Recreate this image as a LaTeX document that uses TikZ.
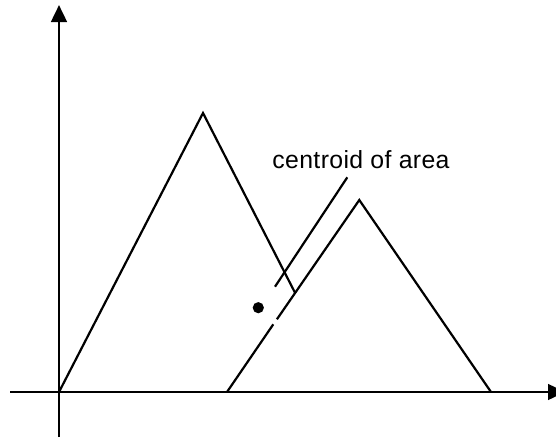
\documentclass[tikz,border=0pt]{standalone}
\usepackage{fontspec}
\setmainfont{Liberation Sans}
\usetikzlibrary{arrows.meta}

\begin{document}
\begin{tikzpicture}[x=0.5pt,y=-0.5pt,
  axis/.style={line width=1.4pt,-{Triangle[length=8.5pt,width=7.8pt]}},
  edge/.style={line width=1.1pt}]
\fill[white] (0,0) rectangle (556,439);
\useasboundingbox (0,0) rectangle (556,439);

%axes
\draw[axis] (59,437) -- (59,5);
\draw[axis] (10,392) -- (565,392);

%first area
\draw[edge] (59,392) -- (203,113) -- (295,292.7);

%second area, with a small break on its left side
\draw[edge] (227,392) -- (273.3,324.3);
\draw[edge] (276.9,319.3) -- (359.3,200) -- (491,392);

%centroid and label
\fill (258.3,307.7) circle (2.8pt);
\node[anchor=base west,inner sep=0pt,font=\fontsize{12.4pt}{14pt}\selectfont\addfontfeature{LetterSpace=1.5}] (lbl) at (272,168.3) {centroid of area};
\coordinate (ltop) at (347.3,177.3);
\coordinate (lbot) at (275,286.7);
\draw[edge] (lbot) -- (ltop);

\end{tikzpicture}
\end{document}
